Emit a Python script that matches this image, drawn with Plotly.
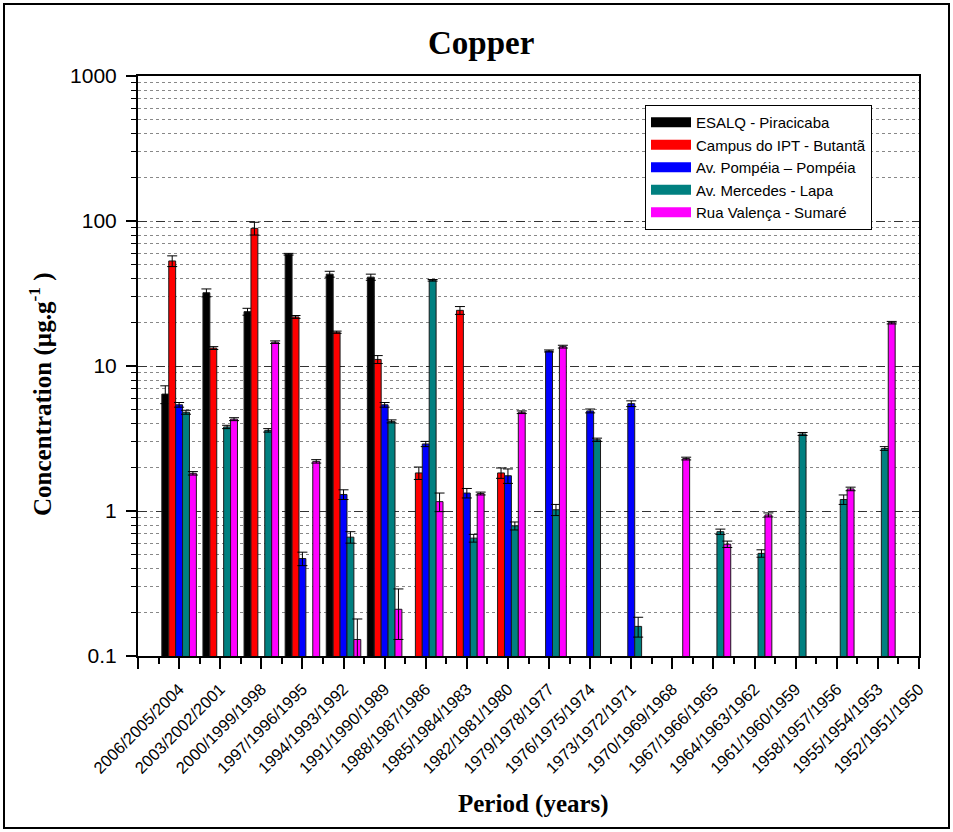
import plotly.graph_objects as go

# Sampling periods (three-year tree-ring intervals), newest first
periods = [
    "2006/2005/2004", "2003/2002/2001", "2000/1999/1998", "1997/1996/1995",
    "1994/1993/1992", "1991/1990/1989", "1988/1987/1986", "1985/1984/1983",
    "1982/1981/1980", "1979/1978/1977", "1976/1975/1974", "1973/1972/1971",
    "1970/1969/1968", "1967/1966/1965", "1964/1963/1962", "1961/1960/1959",
    "1958/1957/1956", "1955/1954/1953", "1952/1951/1950",
]

N = None
# Copper concentration (µg/g) per site and its standard deviation
esalq = [6.4, 32, 23.7, 59, 43, 41, N, N, N, N, N, N, N, N, N, N, N, N, N]
esalq_err = [0.9, 2.0, 1.3, 0.8, 2.0, 2.0, N, N, N, N, N, N, N, N, N, N, N, N, N]

ipt = [53, 13.3, 89, 21.8, 17.1, 11.1, 1.83, 24.2, 1.83, N, N, N, N, N, N, N, N, N, N]
ipt_err = [4.5, 0.3, 9.0, 0.5, 0.3, 0.7, 0.18, 1.5, 0.15, N, N, N, N, N, N, N, N, N, N]

pompeia = [5.4, N, N, 0.47, 1.3, 5.4, 2.9, 1.33, 1.75, 12.7, 4.9, 5.5, N, N, N, N, N, N, N]
pompeia_err = [0.2, N, N, 0.05, 0.1, 0.2, 0.12, 0.1, 0.2, 0.2, 0.15, 0.25, N, N, N, N, N, N, N]

mercedes = [4.8, 3.8, 3.6, N, 0.66, 4.15, 39, 0.65, 0.79, 1.02, 3.1, 0.16, N, 0.72, 0.51, 3.4, 1.2, 2.7, N]
mercedes_err = [0.15, 0.1, 0.1, N, 0.06, 0.1, 0.5, 0.04, 0.05, 0.09, 0.08, 0.025, N, 0.03, 0.03, 0.08, 0.09, 0.08, N]

valenca = [1.82, 4.3, 14.6, 2.2, 0.13, 0.21, 1.16, 1.32, 4.8, 13.6, N, N, 2.3, 0.59, 0.94, N, 1.42, 19.9, N]
valenca_err = [0.05, 0.1, 0.3, 0.06, 0.05, 0.08, 0.17, 0.03, 0.1, 0.3, N, N, 0.05, 0.03, 0.03, N, 0.04, 0.4, N]

series = [
    ("ESALQ - Piracicaba", esalq, esalq_err, "#000000"),
    ("Campus do IPT - Butantã", ipt, ipt_err, "#FF0000"),
    ("Av. Pompéia – Pompéia", pompeia, pompeia_err, "#0000FF"),
    ("Av. Mercedes - Lapa", mercedes, mercedes_err, "#008080"),
    ("Rua Valença - Sumaré", valenca, valenca_err, "#FF00FF"),
]

x_pos = list(range(len(periods)))

fig = go.Figure()
for name, vals, errs, color in series:
    fig.add_trace(go.Bar(
        x=x_pos, y=vals, name=name, showlegend=False, legendgroup=name,
        marker=dict(color=color, line=dict(color="#1a1a1a", width=1)),
        error_y=dict(type="data", array=errs, visible=True,
                     color="#000000", thickness=1, width=5),
    ))
# wide rectangular legend swatches
for name, vals, errs, color in series:
    fig.add_trace(go.Scatter(
        x=[None], y=[None], mode="lines", name=name, legendgroup=name,
        line=dict(color=color, width=13), showlegend=True,
    ))

W, H = 953, 832
L, R, T, B = 138, 34, 76, 176
pw, ph = W - L - R, H - T - B

def px_x(px):
    return (px - L) / pw

def px_y(py):
    return (H - B - py) / ph

fig.update_layout(
    width=W, height=H,
    margin=dict(l=L, r=R, t=T, b=B),
    paper_bgcolor="white", plot_bgcolor="white",
    barmode="group", bargap=0.16, bargroupgap=0.0,
    font=dict(family="Liberation Sans, Arial", color="#000000"),
    showlegend=True,
    legend=dict(
        x=px_x(645), y=px_y(105), xanchor="left", yanchor="top",
        bordercolor="#000000", borderwidth=1, bgcolor="white",
        font=dict(family="Liberation Sans, Arial", size=15),
        tracegroupgap=0, itemwidth=40,
    ),
    annotations=[
        dict(text="<b>Copper</b>", xref="paper", yref="paper",
             x=px_x(481), y=px_y(43), xanchor="center", yanchor="middle",
             showarrow=False, font=dict(family="Liberation Serif", size=33)),
        dict(text="<b>Period (years)</b>", xref="paper", yref="paper",
             x=px_x(533), y=px_y(804), xanchor="center", yanchor="middle",
             showarrow=False, font=dict(family="Liberation Serif", size=25)),
        dict(text="<b>Concentration (µg.g<sup>-1</sup> )</b>", xref="paper", yref="paper",
             x=px_x(40), y=px_y(394), xanchor="center", yanchor="middle",
             textangle=-90, showarrow=False,
             font=dict(family="Liberation Serif", size=25)),
    ],
    shapes=[
        dict(type="rect", xref="paper", yref="paper",
             x0=px_x(4), x1=px_x(949), y0=px_y(828), y1=px_y(4),
             line=dict(color="#000000", width=2), fillcolor="rgba(0,0,0,0)",
             layer="below"),
    ],
)

fig.update_xaxes(
    type="linear", range=[-1, 18],
    tickmode="array", tickvals=list(range(-1, len(periods))),
    ticktext=[""] + periods,
    tickangle=-45, tickfont=dict(family="Liberation Sans, Arial", size=16.5),
    ticks="outside", ticklen=11, tickwidth=1.5, tickcolor="#000000",
    ticklabelstandoff=4,
    minor=dict(tick0=0.5, dtick=1, ticks="outside", ticklen=6,
               tickwidth=1.5, tickcolor="#000000", showgrid=False),
    showline=True, linewidth=2, linecolor="#000000", mirror=True,
    showgrid=False, zeroline=False,
)

fig.update_yaxes(
    type="log", range=[-1, 3],
    tickvals=[0.1, 1, 10, 100, 1000], ticktext=["0.1", "1", "10", "100", "1000"],
    tickfont=dict(family="Liberation Sans, Arial", size=21),
    ticks="outside", ticklen=10, tickwidth=1.5, tickcolor="#000000",
    ticklabelstandoff=5,
    showline=True, linewidth=2, linecolor="#000000", mirror=True,
    showgrid=True, gridcolor="#333333", griddash="dash", gridwidth=1,
    minor=dict(dtick="D1", ticks="outside", ticklen=5, tickwidth=1.2,
               tickcolor="#000000", showgrid=True, gridcolor="#888888",
               griddash="dot", gridwidth=1),
    zeroline=False,
)

fig.write_html("out.html")
